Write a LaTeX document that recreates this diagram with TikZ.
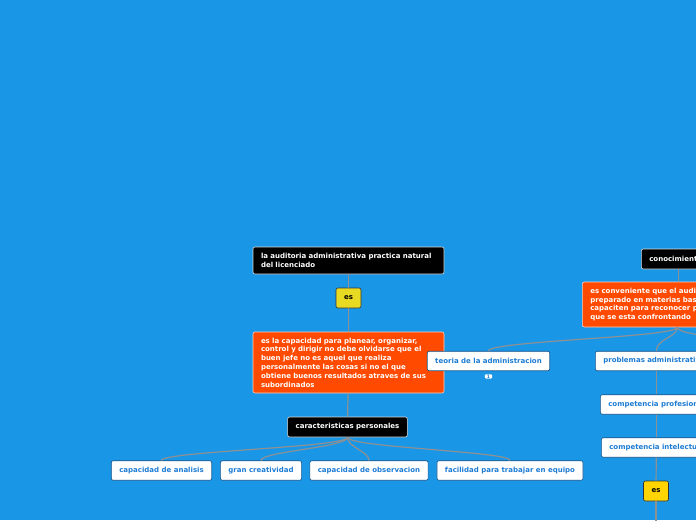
\documentclass[tikz,border=0pt]{standalone}
\usepackage{fontspec}
\setmainfont{DejaVu Sans}
\usetikzlibrary{positioning}
\definecolor{mmSky}{HTML}{1997E6}
\definecolor{mmOrange}{HTML}{FF4A00}
\definecolor{mmLemon}{HTML}{E8D923}
\definecolor{mmGold}{HTML}{FFD400}
\definecolor{mmLink}{HTML}{8E9093}
\definecolor{mmText}{HTML}{1C7CD5}

\begin{document}
\begin{tikzpicture}[x=1pt, y=-1pt,
  base/.style={font=\fontsize{7}{8.8}\selectfont\bfseries, rounded corners=2pt,
               inner xsep=8pt, inner ysep=3pt, line width=0.6pt},
  darkbox/.style={base, fill=black, draw=white!85!black, text=white, minimum height=20pt},
  hotbox/.style={base, fill=mmOrange, draw=white!75!mmOrange, text=white, align=left},
  leafbox/.style={base, fill=white, draw=mmText!65!black, text=mmText, minimum height=19.5pt},
  esbox/.style={base, draw=black!80, text=black, minimum width=25pt, minimum height=20pt, inner xsep=2pt},
  badge/.style={fill=white, rounded corners=1pt, text=mmText, inner xsep=2pt, inner ysep=0.5pt,
                font=\fontsize{4.5}{5}\selectfont\bfseries},
  link/.style={draw=mmLink, line width=1.2pt},
]

\useasboundingbox (0,0) rectangle (696,520);
\clip (0,0) rectangle (696,520);
\fill[mmSky] (0,0) rectangle (696,520);

% left branch
\node[darkbox, text width=175pt, minimum height=27pt, align=left] (duty) at (348.5,260.5)
  {la auditoria administrativa practica natural\\del licenciado};
\node[esbox, fill=mmLemon] (es1) at (348.5,298) {es};
\node[hotbox, text width=175pt, minimum height=61pt] (skill) at (348.5,362.5)
  {es la capacidad para planear, organizar,\\control y dirigir no debe olvidarse que el\\buen jefe no es aquel que realiza\\personalmente las cosas si no el que\\obtiene buenos resultados atraves de sus\\subordinados};
\node[darkbox] (traits) at (347.5,427) {caracteristicas personales};

\draw[link] (duty) -- (es1);
\draw[link] (es1) -- (skill);
\draw[link] (skill) -- (traits);

\foreach \nm/\xx/\txt in {anal/161.5/capacidad de analisis, crea/261/gran creatividad,
                          obse/369/capacidad de observacion, equi/510/facilidad para trabajar en equipo} {
  \node[leafbox] (\nm) at (\xx,470.5) {\txt};
  \draw[link] (traits.south) .. controls +(0,10) and +(0,-9) .. (\nm.north);
}

% right branch, runs off the page
\node[darkbox, anchor=west, text width=58pt, align=left] (know) at (641,259) {conocimient};
\node[hotbox, anchor=west, text width=174pt, minimum height=45pt] (adv) at (582,304.5)
  {es conveniente que el audit\\preparado en materias bas\\capaciten para reconocer p\\que se esta confrontando};
\node[leafbox] (theo) at (488.5,361) {teoria de la administracion};
\node[badge, below=3pt of theo] (num) {1};
\node[leafbox, anchor=west, text width=106pt, align=left] (prob) at (595,361) {problemas administrativ};
\node[leafbox, anchor=west, text width=96pt, align=left] (prof) at (600,404.5) {competencia profesion};
\node[leafbox, anchor=west, text width=94pt, align=left] (inte) at (601,447.5) {competencia intelectu};
\node[esbox, fill=mmGold] (es2) at (656,491) {es};
\coordinate (beyond) at (770,351);
\coordinate (below) at (656,540);

\draw[link] (know.south) -- (know.south |- adv.north);
\draw[link] (adv.south) .. controls +(0,10) and +(0,-10) .. (theo.north);
\draw[link] (adv.south) .. controls +(0,10) and +(0,-12) .. (prob.north);
\draw[link] (adv.south) .. controls +(0,10) and +(0,-12) .. (beyond);
\draw[link] (prob) -- (prof);
\draw[link] (prof) -- (inte);
\draw[link] (inte) -- (es2);
\draw[link] (es2) -- (below);

\end{tikzpicture}
\end{document}
